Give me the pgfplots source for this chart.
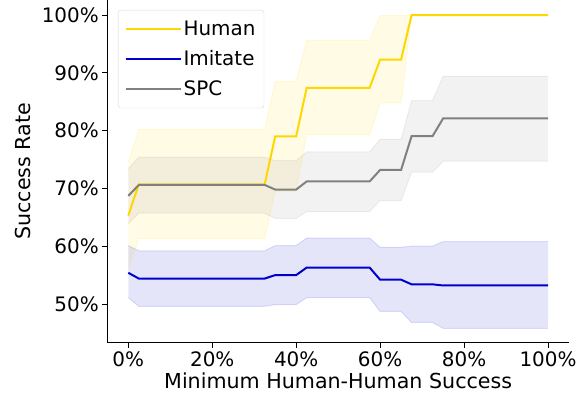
\documentclass[border=0pt]{standalone}
\usepackage{fontspec}
\setmainfont{DejaVu Sans}
\usepackage{pgfplots}
\pgfplotsset{compat=1.18}
\usepackage{pgfplotstable}
\usepgfplotslibrary{fillbetween}
\usetikzlibrary{calc}

\definecolor{hgold}{RGB}{255,215,0}
\definecolor{imblue}{RGB}{0,0,205}
\definecolor{spcgray}{RGB}{128,128,128}

% x: minimum human-human success (%), m/u/l = mean, upper, lower
\pgfplotstableread{
x    hm    hu    hl    im    iu    il    sm    su    sl
0    65.3  74.5  56.0  55.4  60.1  51.1  68.7  73.4  63.9
2.5  70.7  80.2  61.3  54.4  59.2  49.6  70.6  75.4  65.7
32.5 70.7  80.2  61.3  54.4  59.2  49.6  70.6  75.4  65.7
35   79.0  88.5  69.5  55.0  60.1  49.9  69.8  74.8  64.8
40   79.0  88.5  69.5  55.0  60.1  49.9  69.8  74.8  64.8
42.5 87.4  95.6  79.3  56.3  61.4  51.1  71.2  76.3  66.0
57.5 87.4  95.6  79.3  56.3  61.4  51.1  71.2  76.3  66.0
60   92.3  99.9  84.8  54.2  59.8  48.7  73.2  78.5  67.9
65   92.3  99.9  84.8  54.2  59.8  48.7  73.2  78.5  67.9
67.5 100   100   100   53.4  60.0  46.8  79.05 85.2  72.8
72.5 100   100   100   53.4  60.0  46.8  79.05 85.2  72.8
75   100   100   100   53.2  60.8  45.8  82.1  89.4  74.7
100  100   100   100   53.2  60.8  45.8  82.1  89.4  74.7
}\data

\begin{document}
\begin{tikzpicture}
  \begin{axis}[
    name=ax,
    at={(0,0)}, anchor=south west,
    scale only axis,
    width=461.7bp, height=342.7bp,
    xmin=-5, xmax=105,
    ymin=43.3, ymax=102.6,
    axis x line*=bottom,
    axis y line*=left,
    axis line style={line width=0.9bp},
    tick align=outside,
    major tick length=5bp,
    every tick/.style={black, line width=0.9bp},
    xtick={0,20,40,60,80,100},
    xticklabels={0\%,20\%,40\%,60\%,80\%,100\%},
    ytick={50,60,70,80,90,100},
    yticklabels={50\%,60\%,70\%,80\%,90\%,100\%},
    tick label style={font=\fontsize{20}{24}\selectfont},
    label style={font=\fontsize{20.7}{24}\selectfont},
    ylabel shift=4bp,
    xlabel={Minimum Human-Human Success},
    ylabel={Success Rate},
    legend style={
      at={(0.023,0.971)}, anchor=north west,
      draw=black!15, rounded corners=3bp,
      fill=white, fill opacity=0.8, text opacity=1,
      font=\fontsize{20}{24}\selectfont,
      cells={anchor=west},
      row sep=9.5bp,
      inner xsep=6.5bp, inner ysep=9bp
    },
    legend image code/.code={\draw[#1] (0bp,0bp) -- (42bp,0bp); \path (0bp,0bp) -- (55bp,0bp);},
  ]

  \addlegendimage{hgold, line width=2bp}
  \addlegendentry{Human}
  \addlegendimage{imblue, line width=2bp}
  \addlegendentry{Imitate}
  \addlegendimage{spcgray, line width=2bp}
  \addlegendentry{SPC}

  % Human
  \addplot[name path=hu, draw=hgold, draw opacity=0.12, line width=1bp, forget plot] table[x=x,y=hu]{\data};
  \addplot[name path=hl, draw=hgold, draw opacity=0.12, line width=1bp, forget plot] table[x=x,y=hl]{\data};
  \addplot[fill=hgold, fill opacity=0.1, draw=none, forget plot] fill between[of=hu and hl];
  \addplot[hgold, line width=2bp, forget plot] table[x=x,y=hm]{\data};

  % Imitate
  \addplot[name path=iu, draw=imblue, draw opacity=0.12, line width=1bp, forget plot] table[x=x,y=iu]{\data};
  \addplot[name path=il, draw=imblue, draw opacity=0.12, line width=1bp, forget plot] table[x=x,y=il]{\data};
  \addplot[fill=imblue, fill opacity=0.1, draw=none, forget plot] fill between[of=iu and il];
  \addplot[imblue, line width=2bp, forget plot] table[x=x,y=im]{\data};

  % SPC
  \addplot[name path=su, draw=spcgray, draw opacity=0.12, line width=1bp, forget plot] table[x=x,y=su]{\data};
  \addplot[name path=sl, draw=spcgray, draw opacity=0.12, line width=1bp, forget plot] table[x=x,y=sl]{\data};
  \addplot[fill=spcgray, fill opacity=0.1, draw=none, forget plot] fill between[of=su and sl];
  \addplot[spcgray, line width=2bp, forget plot] table[x=x,y=sm]{\data};

  \end{axis}
  \pgfresetboundingbox
  \path[use as bounding box] ($(ax.south west)+(-107.3bp,-58.3bp)$) rectangle ($(ax.north east)+(18bp,0bp)$);
\end{tikzpicture}
\end{document}
